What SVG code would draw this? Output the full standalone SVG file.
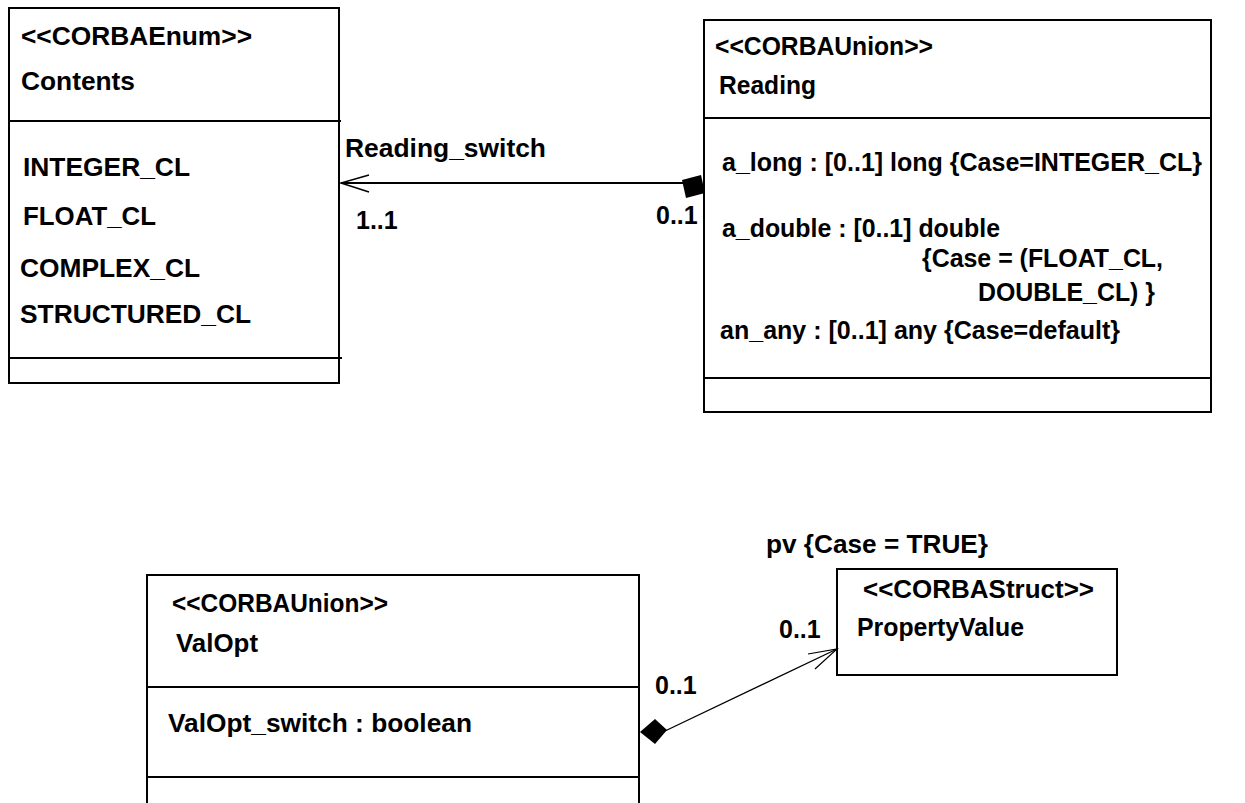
<svg xmlns="http://www.w3.org/2000/svg" width="1245" height="803" viewBox="0 0 1245 803">
<style>
  .box { fill: #fff; stroke: #000; stroke-width: 2; }
  .ln { stroke: #000; stroke-width: 2; fill: none; }
  .t { font-family: "Liberation Sans", Arial, sans-serif; font-weight: bold; font-size: 25px; fill: #000; }
  .conn { stroke: #000; fill: none; }
</style>
<rect width="1245" height="803" fill="#fff"/>

<g id="Contents">
  <rect class="box" x="9" y="8" width="330" height="375"/>
  <line class="ln" x1="9" y1="121" x2="341" y2="121"/>
  <line class="ln" x1="9" y1="358" x2="342" y2="358"/>
  <text class="t" x="21" y="45" textLength="231" lengthAdjust="spacingAndGlyphs">&lt;&lt;CORBAEnum&gt;&gt;</text>
  <text class="t" x="21" y="90" textLength="114" lengthAdjust="spacingAndGlyphs">Contents</text>
  <text class="t" x="23" y="176" textLength="167" lengthAdjust="spacingAndGlyphs">INTEGER_CL</text>
  <text class="t" x="23" y="225" textLength="133" lengthAdjust="spacingAndGlyphs">FLOAT_CL</text>
  <text class="t" x="20" y="277" textLength="180" lengthAdjust="spacingAndGlyphs">COMPLEX_CL</text>
  <text class="t" x="20" y="323" textLength="231" lengthAdjust="spacingAndGlyphs">STRUCTURED_CL</text>
</g>

<g id="Reading">
  <rect class="box" x="704" y="20" width="507" height="392"/>
  <line class="ln" x1="704" y1="118" x2="1211" y2="118"/>
  <line class="ln" x1="704" y1="378" x2="1211" y2="378"/>
  <text class="t" x="715" y="55" textLength="218" lengthAdjust="spacingAndGlyphs">&lt;&lt;CORBAUnion&gt;&gt;</text>
  <text class="t" x="719" y="94" textLength="97" lengthAdjust="spacingAndGlyphs">Reading</text>
  <text class="t" x="722" y="171" textLength="480" lengthAdjust="spacingAndGlyphs">a_long : [0..1] long {Case=INTEGER_CL}</text>
  <text class="t" x="722" y="237" textLength="278" lengthAdjust="spacingAndGlyphs">a_double : [0..1] double</text>
  <text class="t" x="922" y="267" textLength="241" lengthAdjust="spacingAndGlyphs">{Case = (FLOAT_CL,</text>
  <text class="t" x="978" y="301" textLength="177" lengthAdjust="spacingAndGlyphs">DOUBLE_CL) }</text>
  <text class="t" x="720" y="339" textLength="400" lengthAdjust="spacingAndGlyphs">an_any : [0..1] any {Case=default}</text>
</g>

<g id="ValOpt">
  <path class="ln" d="M147,803 V575 H639 V803"/>
  <line class="ln" x1="147" y1="687" x2="639" y2="687"/>
  <line class="ln" x1="147" y1="777" x2="639" y2="777"/>
  <text class="t" x="172" y="612" textLength="216" lengthAdjust="spacingAndGlyphs">&lt;&lt;CORBAUnion&gt;&gt;</text>
  <text class="t" x="176" y="652" textLength="82" lengthAdjust="spacingAndGlyphs">ValOpt</text>
  <text class="t" x="168" y="732" textLength="304" lengthAdjust="spacingAndGlyphs">ValOpt_switch : boolean</text>
</g>

<g id="PropertyValue">
  <rect class="box" x="837" y="569" width="280" height="106"/>
  <text class="t" x="863" y="598" textLength="231" lengthAdjust="spacingAndGlyphs">&lt;&lt;CORBAStruct&gt;&gt;</text>
  <text class="t" x="857" y="636" textLength="167" lengthAdjust="spacingAndGlyphs">PropertyValue</text>
</g>

<g id="connectors">
  <line class="conn" stroke-width="2" x1="341" y1="183" x2="684" y2="183"/>
  <polyline class="conn" stroke-width="1.5" points="369,175 341,183 369,192"/>
  <polygon points="682,180 701,175 705,193 686,198" fill="#000"/>
  <text class="t" x="345" y="157" textLength="201" lengthAdjust="spacingAndGlyphs">Reading_switch</text>
  <text class="t" x="356" y="229">1..1</text>
  <text class="t" x="656" y="224">0..1</text>

  <line class="conn" stroke-width="1.3" x1="665" y1="731" x2="837" y2="649"/>
  <polyline class="conn" stroke-width="1.2" points="808,654 837,649 815,669"/>
  <polygon points="640,732 655,719 667,730 655,744" fill="#000"/>
  <text class="t" x="766" y="553" textLength="222" lengthAdjust="spacingAndGlyphs">pv {Case = TRUE}</text>
  <text class="t" x="779" y="638">0..1</text>
  <text class="t" x="655" y="694">0..1</text>
</g>
</svg>
